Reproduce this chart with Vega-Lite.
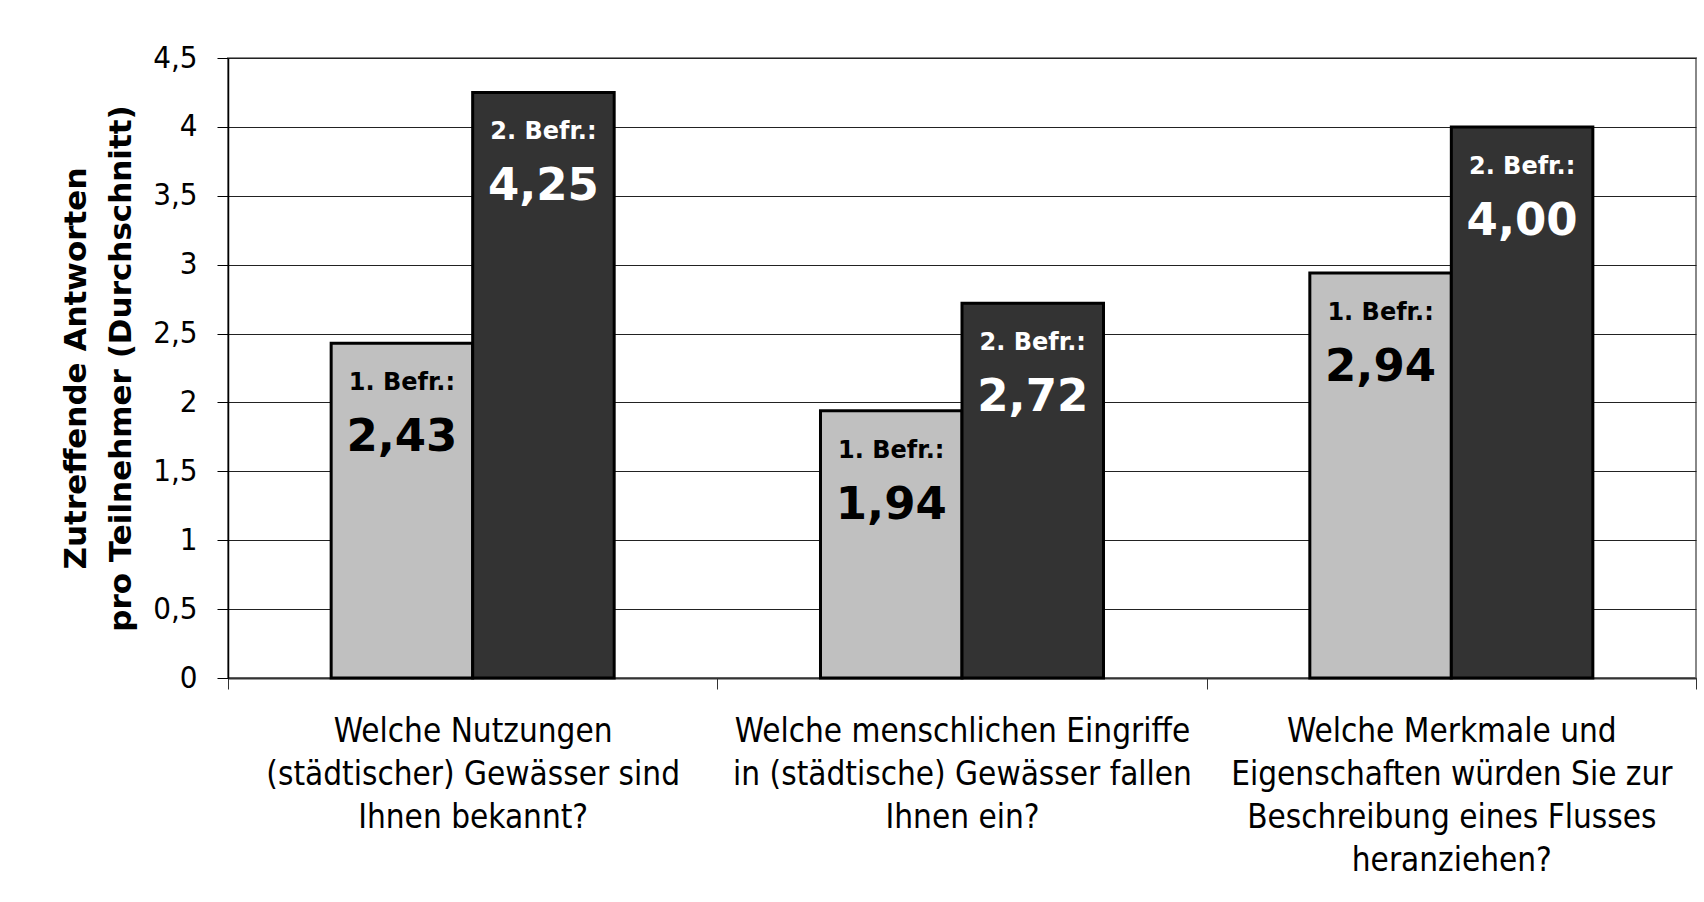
{
  "$schema": "https://vega.github.io/schema/vega-lite/v6.json",
  "autosize": {"type": "none"},
  "width": 1468,
  "height": 620,
  "padding": {"left": 228, "top": 58, "right": 8, "bottom": 224},
  "background": "white",
  "config": {
    "font": "DejaVu Sans Condensed, DejaVu Sans",
    "view": {"stroke": "#888888", "strokeWidth": 2}
  },
  "data": {
    "values": [
      {"q": "Welche Nutzungen|(städtischer) Gewässer sind|Ihnen bekannt?", "befr": "1. Befr.:", "value": 2.43, "label": "2,43"},
      {"q": "Welche Nutzungen|(städtischer) Gewässer sind|Ihnen bekannt?", "befr": "2. Befr.:", "value": 4.25, "label": "4,25"},
      {"q": "Welche menschlichen Eingriffe|in (städtische) Gewässer fallen|Ihnen ein?", "befr": "1. Befr.:", "value": 1.94, "label": "1,94"},
      {"q": "Welche menschlichen Eingriffe|in (städtische) Gewässer fallen|Ihnen ein?", "befr": "2. Befr.:", "value": 2.72, "label": "2,72"},
      {"q": "Welche Merkmale und|Eigenschaften würden Sie zur|Beschreibung eines Flusses|heranziehen?", "befr": "1. Befr.:", "value": 2.94, "label": "2,94"},
      {"q": "Welche Merkmale und|Eigenschaften würden Sie zur|Beschreibung eines Flusses|heranziehen?", "befr": "2. Befr.:", "value": 4.0, "label": "4,00"}
    ]
  },
  "encoding": {
    "x": {
      "field": "q",
      "type": "nominal",
      "sort": null,
      "scale": {"paddingInner": 0, "paddingOuter": 0},
      "axis": {
        "title": null,
        "labelAngle": 0,
        "labelExpr": "split(datum.label, '|')",
        "labelFontSize": 33,
        "labelLineHeight": 43,
        "labelColor": "black",
        "labelPadding": 26,
        "labelLimit": 0,
        "tickBand": "extent",
        "tickSize": 11,
        "tickColor": "#333333",
        "tickWidth": 1,
        "domainColor": "#333333",
        "domainWidth": 2,
        "grid": false
      }
    },
    "xOffset": {
      "field": "befr",
      "type": "nominal",
      "sort": null,
      "scale": {"paddingInner": 0, "paddingOuter": 0.729}
    },
    "y": {
      "field": "value",
      "type": "quantitative",
      "scale": {"domain": [0, 4.5], "nice": false},
      "axis": {
        "values": [0, 0.5, 1, 1.5, 2, 2.5, 3, 3.5, 4, 4.5],
        "labelExpr": "replace(toString(datum.value), '.', ',')",
        "labelFontSize": 31,
        "labelColor": "black",
        "labelPadding": 20,
        "tickSize": 11,
        "tickColor": "black",
        "domainColor": "black",
        "domainWidth": 1.5,
        "grid": true,
        "gridColor": "#222222",
        "gridWidth": 1,
        "gridOpacity": 1,
        "title": ["Zutreffende Antworten", "pro Teilnehmer  (Durchschnitt)"],
        "titleFont": "DejaVu Sans",
        "titleFontSize": 31,
        "titleFontWeight": "bold",
        "titleLineHeight": 45,
        "titleColor": "black",
        "titlePadding": 15
      }
    }
  },
  "layer": [
    {
      "mark": {"type": "bar", "stroke": "black", "strokeWidth": 3},
      "encoding": {
        "fill": {
          "field": "befr",
          "type": "nominal",
          "scale": {"domain": ["1. Befr.:", "2. Befr.:"], "range": ["#c0c0c0", "#333333"]},
          "legend": null
        }
      }
    },
    {
      "mark": {"type": "text", "baseline": "alphabetic", "align": "center", "dy": 47, "fontSize": 24, "fontWeight": "bold", "font": "DejaVu Sans"},
      "encoding": {
        "text": {"field": "befr"},
        "color": {
          "field": "befr",
          "type": "nominal",
          "scale": {"domain": ["1. Befr.:", "2. Befr.:"], "range": ["black", "white"]},
          "legend": null
        }
      }
    },
    {
      "mark": {"type": "text", "baseline": "alphabetic", "align": "center", "dy": 108, "fontSize": 45, "fontWeight": "bold", "font": "DejaVu Sans"},
      "encoding": {
        "text": {"field": "label"},
        "color": {
          "field": "befr",
          "type": "nominal",
          "scale": {"domain": ["1. Befr.:", "2. Befr.:"], "range": ["black", "white"]},
          "legend": null
        }
      }
    }
  ],
  "resolve": {"scale": {"color": "independent"}}
}
